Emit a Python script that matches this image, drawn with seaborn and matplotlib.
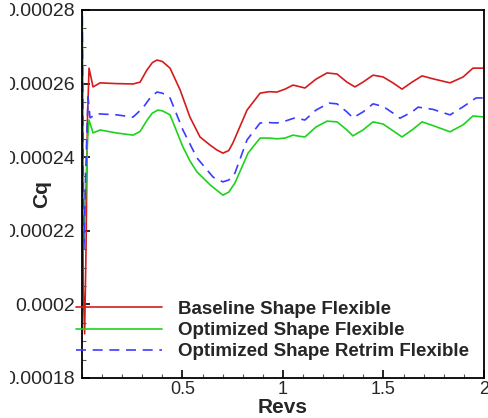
import matplotlib
matplotlib.use("Agg")
import matplotlib.pyplot as plt
import seaborn as sns
import pandas as pd
from matplotlib.ticker import MultipleLocator, FixedLocator
from matplotlib.transforms import Bbox

# ---- data ----
revs_base = [0.0, 0.006, 0.013, 0.020, 0.027, 0.035, 0.055, 0.09, 0.17, 0.254, 0.289, 0.323,
             0.350, 0.373, 0.400, 0.438, 0.488, 0.537, 0.587, 0.637, 0.670, 0.701, 0.730,
             0.751, 0.821, 0.886, 0.930, 0.970, 1.010, 1.050, 1.080, 1.109, 1.164, 1.219,
             1.269, 1.318, 1.358, 1.398, 1.448, 1.498, 1.547, 1.592, 1.642, 1.692, 1.746,
             1.831, 1.896, 1.945, 2.005]
cq_base = [0.000285, 0.000205, 0.000192, 0.000215, 0.000250, 0.0002642, 0.0002591, 0.0002602,
           0.0002600, 0.0002599, 0.0002604, 0.0002637, 0.0002657, 0.0002664, 0.0002660,
           0.0002642, 0.0002583, 0.0002509, 0.0002455, 0.0002433, 0.0002420, 0.0002411,
           0.0002418, 0.0002439, 0.0002528, 0.0002574, 0.0002578, 0.0002577, 0.0002585,
           0.0002596, 0.0002592, 0.0002588, 0.0002612, 0.0002629, 0.0002626, 0.0002604,
           0.0002591, 0.0002604, 0.0002623, 0.0002618, 0.0002602, 0.0002585, 0.0002604,
           0.0002621, 0.0002613, 0.0002602, 0.0002618, 0.0002642, 0.0002642]

revs_opt = [0.0, 0.008, 0.018, 0.028, 0.035, 0.055, 0.09, 0.17, 0.254, 0.289, 0.323, 0.350,
            0.378, 0.400, 0.438, 0.502, 0.537, 0.572, 0.637, 0.687, 0.701, 0.730, 0.761,
            0.826, 0.886, 0.930, 0.970, 1.010, 1.050, 1.080, 1.109, 1.164, 1.219, 1.269,
            1.318, 1.348, 1.398, 1.448, 1.498, 1.547, 1.592, 1.642, 1.692, 1.746, 1.831,
            1.896, 1.945, 2.005]
cq_opt = [0.000290, 0.000215, 0.000230, 0.000245, 0.0002501, 0.0002466, 0.0002474, 0.0002466,
          0.0002460, 0.0002470, 0.0002500, 0.0002520, 0.0002528, 0.0002526, 0.0002515,
          0.0002428, 0.0002390, 0.0002360, 0.0002325, 0.0002303, 0.0002297, 0.0002305,
          0.0002330, 0.0002411, 0.0002452, 0.0002452, 0.0002450, 0.0002452, 0.0002460,
          0.0002457, 0.0002455, 0.0002482, 0.0002498, 0.0002496, 0.0002474, 0.0002458,
          0.0002474, 0.0002496, 0.0002490, 0.0002472, 0.0002455, 0.0002474, 0.0002496,
          0.0002486, 0.0002469, 0.0002488, 0.0002512, 0.0002509]

revs_retrim = [0.0, 0.009, 0.018, 0.030, 0.040, 0.075, 0.174, 0.254, 0.303, 0.340, 0.373,
               0.400, 0.438, 0.502, 0.572, 0.652, 0.701, 0.730, 0.761, 0.821, 0.886, 0.930,
               0.970, 1.010, 1.060, 1.109, 1.164, 1.229, 1.269, 1.318, 1.348, 1.398, 1.448,
               1.498, 1.547, 1.582, 1.642, 1.672, 1.746, 1.831, 1.896, 1.960, 2.005]
cq_retrim = [0.000290, 0.000215, 0.000235, 0.0002564, 0.0002507, 0.0002518, 0.0002515,
             0.0002509, 0.0002534, 0.0002562, 0.0002577, 0.0002574, 0.0002561, 0.0002474,
             0.0002398, 0.0002346, 0.0002333, 0.0002338, 0.0002357, 0.0002447, 0.0002493,
             0.0002494, 0.0002493, 0.0002498, 0.0002507, 0.0002501, 0.0002528, 0.0002547,
             0.0002545, 0.0002523, 0.0002507, 0.0002523, 0.0002545, 0.0002538, 0.0002520,
             0.0002506, 0.0002523, 0.0002536, 0.0002530, 0.0002515, 0.0002537, 0.0002561,
             0.0002561]

labels = ["Baseline Shape Flexible", "Optimized Shape Flexible",
          "Optimized Shape Retrim Flexible"]
y_ticks = [0.00018, 0.0002, 0.00022, 0.00024, 0.00026, 0.00028]
y_ticklabels = ["0.00018", "0.0002", "0.00022", "0.00024", "0.00026", "0.00028"]
x_ticks = [0.5, 1, 1.5, 2]
x_ticklabels = ["0.5", "1", "1.5", "2"]

# ---- style ----
sns.set_style("ticks")
plt.rcParams["font.family"] = ["Liberation Sans", "DejaVu Sans"]

W, H = 489, 418
fig = plt.figure(figsize=(W / 100, H / 100), dpi=100)
ax = fig.add_axes([82 / W, 1 - 378 / H, 402 / W, 368 / H])

df_b = pd.DataFrame({"Revs": revs_base, "Cq": cq_base})
df_o = pd.DataFrame({"Revs": revs_opt, "Cq": cq_opt})
df_r = pd.DataFrame({"Revs": revs_retrim, "Cq": cq_retrim})

DASH = [6, 4]
sns.lineplot(data=df_b, x="Revs", y="Cq", ax=ax, color="#d41c1c", lw=1.2,
             label=labels[0], sort=False)
sns.lineplot(data=df_o, x="Revs", y="Cq", ax=ax, color="#1ed21e", lw=1.2,
             label=labels[1], sort=False)
sns.lineplot(data=df_r, x="Revs", y="Cq", ax=ax, color="#3c3cff", lw=1.2,
             label=labels[2], sort=False)
ax.lines[-1].set_dashes(DASH)

ax.set_xlim(0, 2)
ax.set_ylim(0.00018, 0.00028)

ax.xaxis.set_major_locator(FixedLocator(x_ticks))
ax.set_xticklabels(x_ticklabels)
ax.xaxis.set_minor_locator(MultipleLocator(0.1))
ax.yaxis.set_major_locator(FixedLocator(y_ticks))
ax.set_yticklabels(y_ticklabels)
ax.yaxis.set_minor_locator(MultipleLocator(0.000005))

ax.tick_params(which="both", direction="in", top=False, right=False, color="black")
ax.tick_params(which="major", length=6, width=1.2)
ax.tick_params(which="minor", length=3, width=0.8, color="#555555")
ax.tick_params(axis="x", which="major", pad=2.5, labelsize=13)
ax.tick_params(axis="y", which="major", pad=5, labelsize=14)

for s in ax.spines.values():
    s.set_visible(True)
    s.set_linewidth(1.3)
    s.set_color("black")

ax.set_xlabel("Revs", fontsize=15, fontweight="bold")
ax.set_ylabel("Cq", fontsize=15, fontweight="bold")
ax.xaxis.set_label_coords(0.5, -0.079)
ax.xaxis.label.set_verticalalignment("center")
ax.yaxis.set_label_coords(-0.0995, 0.5)
ax.yaxis.label.set_verticalalignment("center")

fs = 13.5
leg = ax.legend(loc="upper left", bbox_to_anchor=(76 / W, 1 - 300.5 / H),
                bbox_transform=fig.transFigure, frameon=False,
                prop={"weight": "bold", "size": fs}, handlelength=4.6,
                handletextpad=0.85, labelspacing=0.23, borderpad=0, borderaxespad=0)
for ln in leg.get_lines():
    ln.set_linewidth(1.2)
leg.get_lines()[2].set_dashes(DASH)
leg.set_clip_on(False)

# the reference clips the y tick labels at the left margin
fig.canvas.draw()
clip = Bbox.from_extents(10, 0, W, H)
for t in ax.yaxis.get_major_ticks():
    t.label1.set_clip_box(clip)
    t.label1.set_clip_on(True)

fig.savefig("out.png", dpi=100)
